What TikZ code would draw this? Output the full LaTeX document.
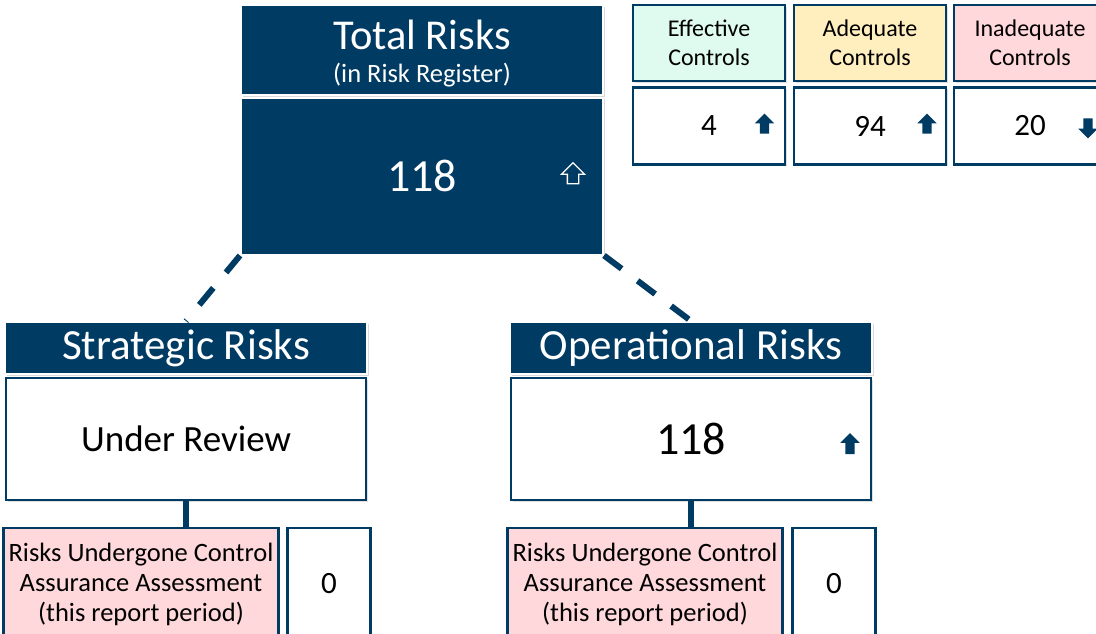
\documentclass[tikz,border=0pt]{standalone}
\usepackage{fontspec}
\setmainfont{Carlito}
\usetikzlibrary{shapes.arrows,shadows}

\definecolor{navy}{HTML}{003B64}
\definecolor{mint}{HTML}{DFFBEF}
\definecolor{sand}{HTML}{FFEFBF}
\definecolor{blush}{HTML}{FFD8DC}

\newcommand{\fs}[1]{\fontsize{#1}{1.2\dimexpr#1pt\relax}\selectfont}

\begin{document}
\begin{tikzpicture}[x = 1pt, y = -1pt,
    title/.style = {draw = white, line width = 2pt, fill = navy, text = white, inner sep = 0pt,
                    drop shadow = {shadow xshift = 1.5pt, shadow yshift = -1.5pt, opacity = 0.3}},
    panel/.style = {draw = navy, line width = 2.5pt, fill = white, inner sep = 0pt,
                    drop shadow = {shadow xshift = 1.5pt, shadow yshift = -1.5pt, opacity = 0.25}},
    tag/.style   = {panel, align = center, font = \fontsize{24}{29}\selectfont},
    up/.style    = {single arrow, fill = navy, rotate = 90, inner sep = 4.5pt, minimum width = 19pt,
                    minimum height = 20pt, single arrow head extend = 5pt},
    down/.style  = {up, rotate = 180},
    link/.style  = {draw = navy, line width = 6pt}]
    \useasboundingbox (0, 0) rectangle (1096, 633);

    % total risks in the register
    \node [title, minimum width = 362pt, minimum height = 90pt] (total) at (422, 50){};
    \node [text = white, font = \fs{42.5}] (totalname) at (422, 35){Total Risks};
    \node [text = white, font = \fs{26.5}] (totalnote) at (422, 75){(in Risk Register)};
    \node [title, minimum width = 362pt, minimum height = 157pt, font = \fs{46}] (totalval) at (422, 176){118};
    \node [up, draw = white, line width = 1.3pt, inner sep = 5pt, minimum width = 22pt,
           minimum height = 21pt, single arrow head extend = 6pt] (totalup) at (573, 176){};

    % control ratings
    \node [tag, fill = mint, minimum width = 152pt, minimum height = 76pt] (eff) at (709, 43){Effective\\Controls};
    \node [tag, fill = sand, minimum width = 152pt, minimum height = 76pt] (adq) at (870, 43){Adequate\\Controls};
    \node [tag, fill = blush, minimum width = 152pt, minimum height = 76pt] (inadq) at (1030, 43){Inadequate\\Controls};
    \node [panel, minimum width = 152pt, minimum height = 77pt, font = \fs{31}] (effval) at (709, 126){4};
    \node [panel, minimum width = 152pt, minimum height = 77pt, font = \fs{31}] (adqval) at (870, 126){94};
    \node [panel, minimum width = 152pt, minimum height = 77pt, font = \fs{31}] (inadqval) at (1030, 126){20};
    \node [up] (effup) at (764.5, 126){};
    \node [up] (adqup) at (927, 126){};
    \node [down] (inadqdown) at (1088, 126){};

    % strategic and operational branches
    \node [title, minimum width = 362pt, minimum height = 52pt, font = \fs{43}] (strat) at (186, 348){Strategic Risks};
    \node [panel, minimum width = 360pt, minimum height = 122pt, font = \fs{37}] (stratval) at (186, 439){Under Review};
    \node [title, minimum width = 362pt, minimum height = 52pt, font = \fs{43}] (oper) at (691, 348){Operational Risks};
    \node [panel, minimum width = 360pt, minimum height = 122pt, font = \fs{46}] (operval) at (691, 439){118};
    \node [up, minimum height = 21pt] (operup) at (850, 446){};

    % control assurance counts
    \node [tag, fill = blush, minimum width = 275pt, minimum height = 112pt, font = \fontsize{26.5}{30}\selectfont]
          (stratca) at (141, 584){Risks Undergone Control\\Assurance Assessment\\(this report period)};
    \node [panel, minimum width = 83pt, minimum height = 112pt, font = \fs{31}] (stratcaval) at (329, 584){0};
    \node [tag, fill = blush, minimum width = 275pt, minimum height = 112pt, font = \fontsize{26.5}{30}\selectfont]
          (operca) at (645, 584){Risks Undergone Control\\Assurance Assessment\\(this report period)};
    \node [panel, minimum width = 83pt, minimum height = 112pt, font = \fs{31}] (opercaval) at (834, 584){0};

    \draw [link, dash pattern = on 22pt off 20pt] (totalval.south west) -- (strat.north);
    \draw [link, dash pattern = on 22pt off 20pt] (totalval.south east) -- (oper.north);
    \draw [link] (stratval.south) -- (stratval.south |- stratca.north);
    \draw [link] (operval.south) -- (operval.south |- operca.north);
\end{tikzpicture}
\end{document}
